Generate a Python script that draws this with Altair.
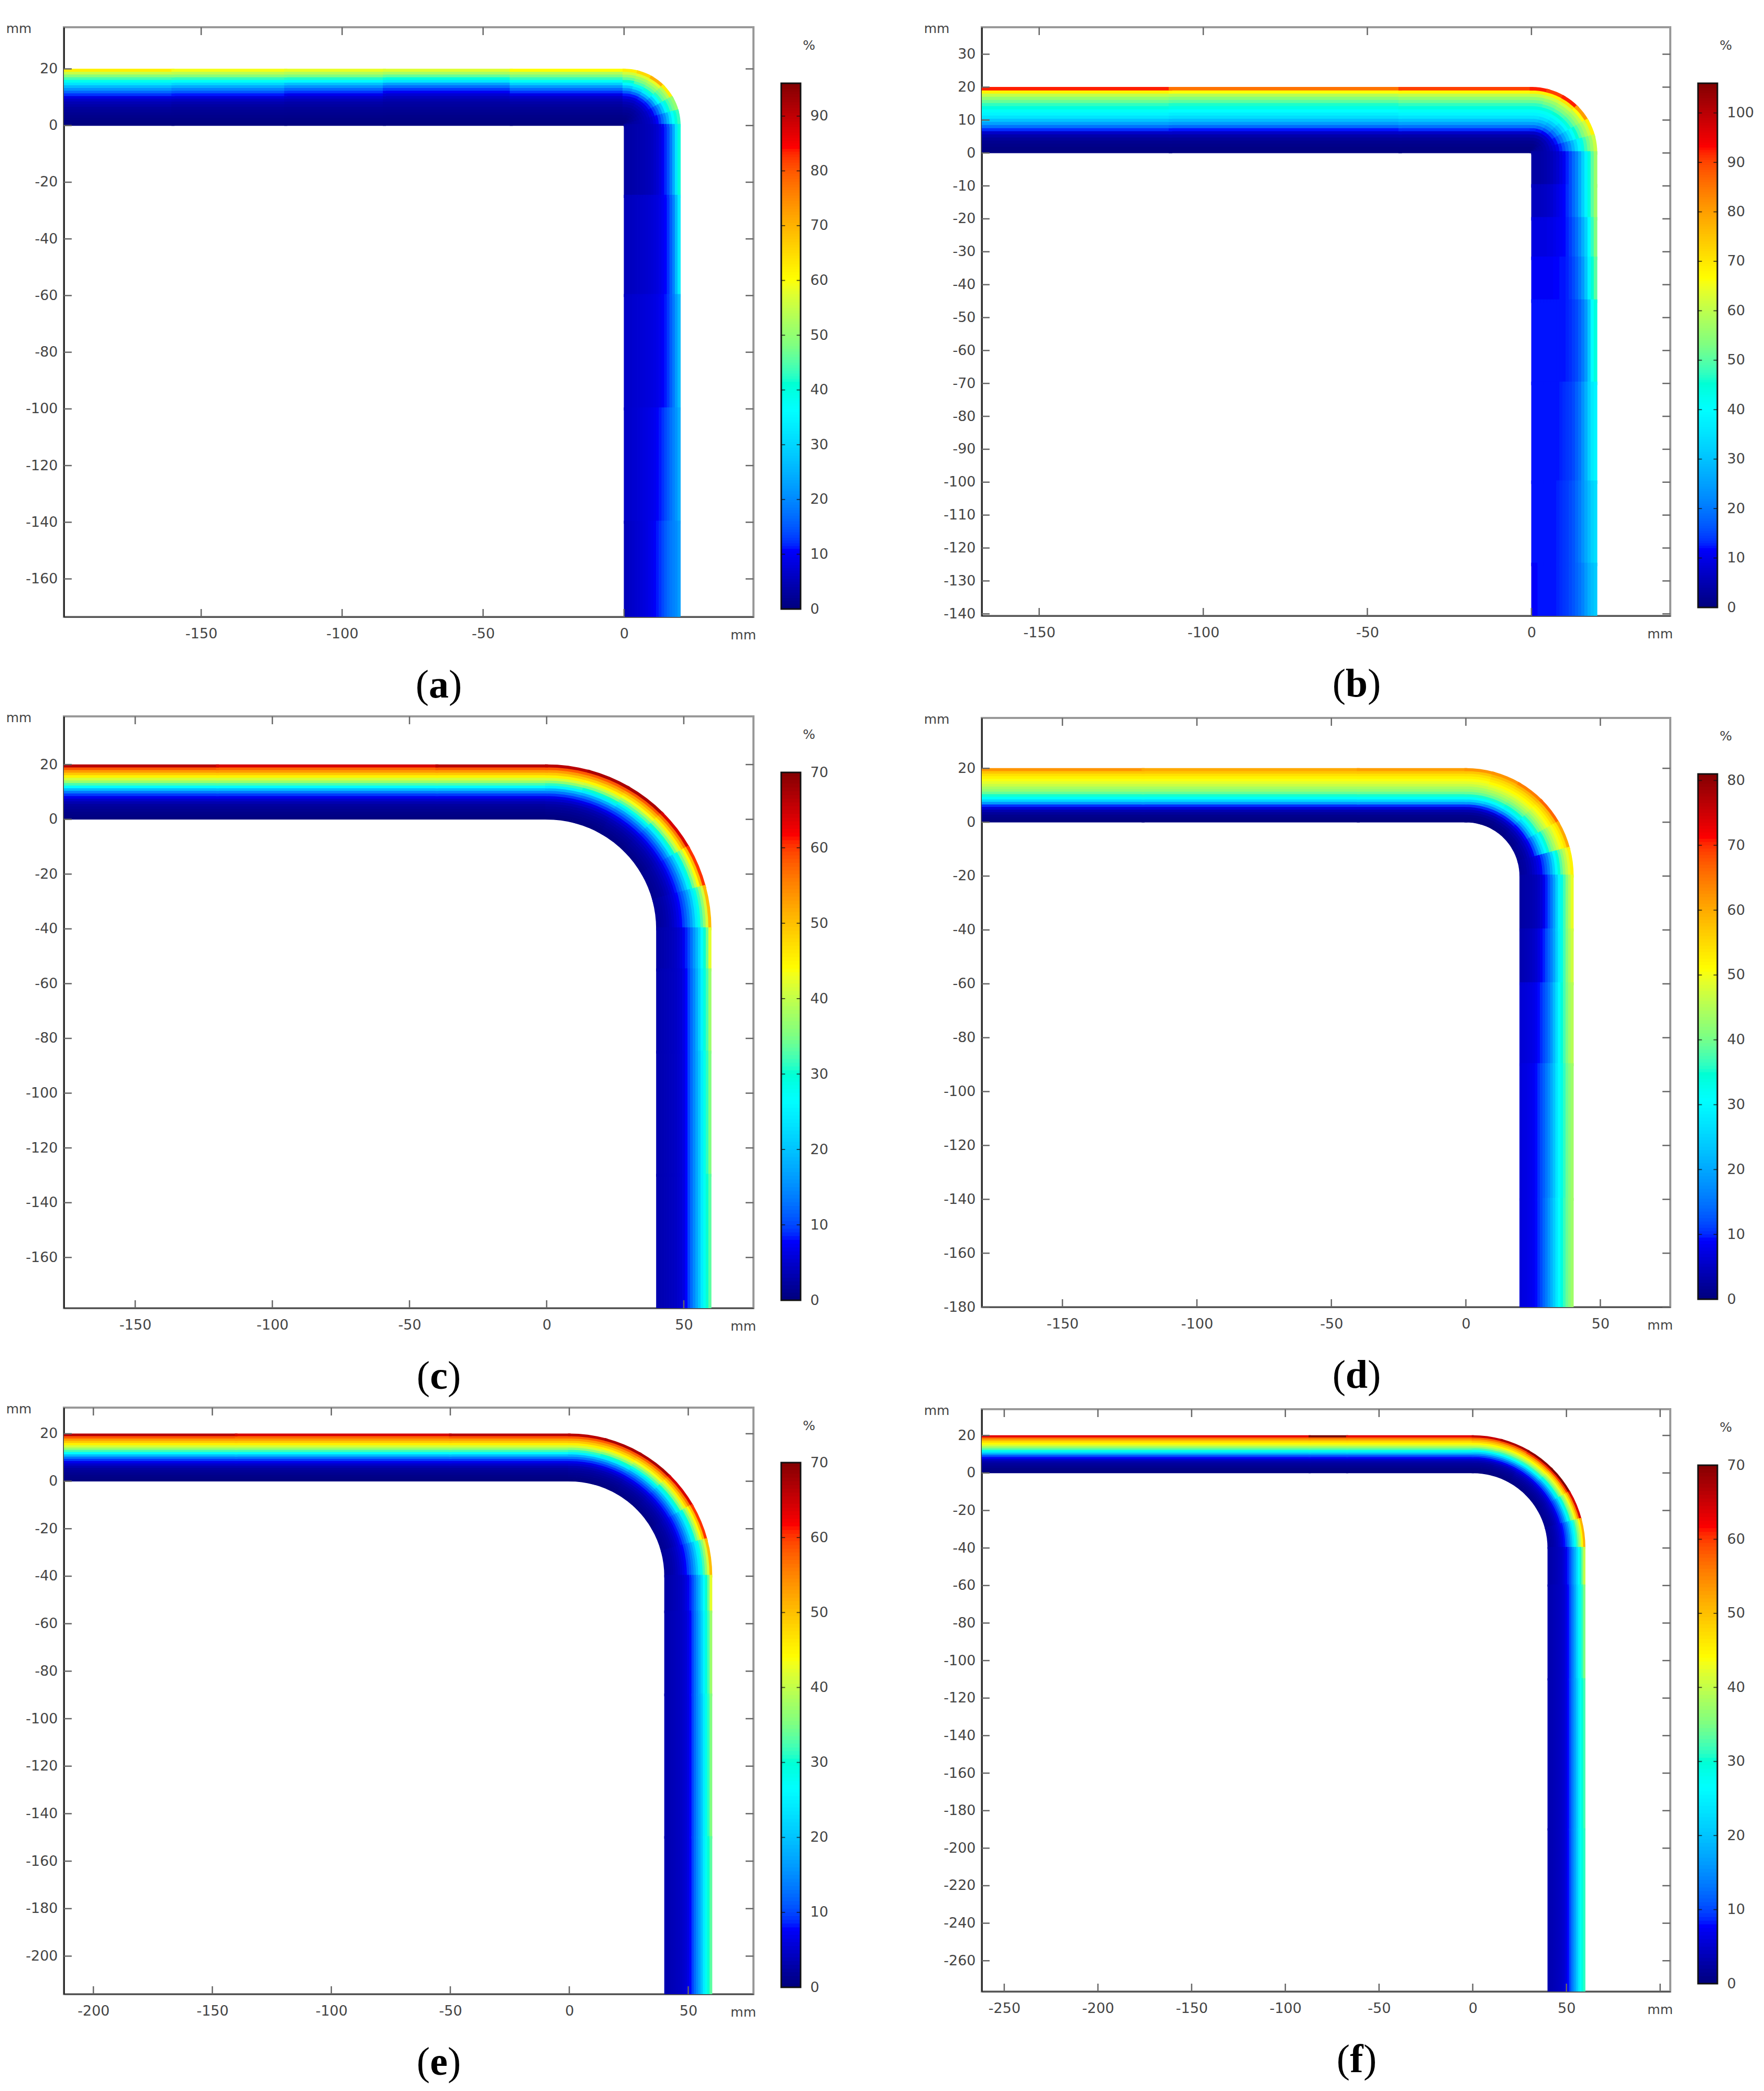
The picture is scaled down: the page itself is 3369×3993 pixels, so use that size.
import math
import altair as alt
import pandas as pd

JET_STOPS = [0, .11, .375, .5, .625, .875, 1]
JET_COLORS = ["#000080", "#0000ff", "#00ffff", "#80ff80", "#ffff00", "#ff0000", "#800000"]

# Each row: % across the wall, inner face to outer face, read at one station along the pipe:
# first the horizontal leg, then six sectors round the bend, then the vertical leg.
FIELD_A = [
    [0,.3,.6,1,1.5,2,2.5,3.5,4.5,6,8,12,16,21,26,32,38,44,49,55,62],
    [0,.3,.6,1,1.4,1.8,2.3,3,4,5.5,7.5,11,14.5,19,24,30,37,43,49,54,59],
    [0,.3,.5,.9,1.3,1.7,2.1,2.8,3.5,4.8,6.5,9,12,16,21,27,35,42,48,53,58],
    [0,.3,.5,.8,1.2,1.6,2,2.5,3,4,5.2,7,9.5,12.5,17,23,32,40,46,52,57],
    [0,.3,.5,.8,1.2,1.6,2,2.6,3.4,4.6,6,8.5,12,16.5,22,29,37,43,48,53,60],
    [0,.3,.6,1,1.5,2,2.5,3.5,4.5,6,8,11,15,21,28,35,41,46,51,56,62],
    [0,.3,.6,1,1.5,2,2.5,3.5,4.5,6,8,11,16,23,31,38,44,48,52,57,65],
    [.2,.4,.8,1.2,1.7,2.2,2.8,3.8,5,6.5,8.5,11.5,17,25,33,40,45,49,53,58,70],
    [.5,.8,1.2,1.6,2,2.5,3.2,4,5,6.5,8.5,11,15,21,29,36,42,46,49,53,62],
    [1,1.3,1.7,2,2.5,3,3.6,4.2,5,6,7.5,9.5,12.5,16,21,27,34,40,44,47,50],
    [1.5,2,2.4,2.8,3.2,3.6,4,4.5,5,5.5,6.5,8,10,12.5,16,20,25,31,36,40,43],
    [3,3.2,3.4,3.6,3.8,4,4.2,4.4,4.7,5,5.5,6.2,7,8,9.5,11.5,14,18,24,32,40],
    [5,5.2,5.4,5.6,5.8,6,6.2,6.4,6.6,6.9,7.2,7.6,8,8.6,9.5,10.5,12,15,19,26,33],
    [6,6.2,6.4,6.6,6.8,7,7.2,7.4,7.6,7.8,8,8.3,8.7,9.2,10,11,12.5,15,18,22,26],
    [6,6.2,6.5,6.8,7,7.3,7.6,7.9,8.2,8.5,8.9,9.4,10,11,12,13.5,15,17,19,21,24],
    [5,5.5,6,6.3,6.7,7,7.4,7.8,8.2,8.7,9.3,10,11,12,13.5,15,16.5,18,19,20,22],
]
FIELD_B = [
    [0,.4,.9,1.5,2.5,4,7,13,19,25,30,35,38,41,44,47,51,55,60,68,92],
    [0,.4,.9,1.5,2.5,4,7,12,18,24,29,34,37,40,43,46,50,54,59,66,85],
    [0,.4,.9,1.5,2.5,4,7,13,19,25,30,35,38,41,44,47,51,55,60,67,90],
    [0,.4,.9,1.5,2.5,4,7,12.5,19,25,30,35,38,41,44,47,51,55,60,68,92],
    [0,.5,1,1.7,2.7,4.3,7,12,18,24,29,34,38,41,44,48,52,56,61,68,90],
    [.5,.8,1.2,2,3,4.5,7,11,16,22,27,32,37,41,45,49,53,57,62,70,92],
    [1,1.3,1.8,2.5,3.5,5,7,10,14,19,24,29,34,39,44,48,52,56,60,66,80],
    [1.5,2,2.5,3.2,4,5.2,7,9,12,16,20,25,30,35,40,45,49,53,57,61,68],
    [2,2.5,3,3.5,4.2,5.2,6.5,8,10,12.5,15.5,19,23,28,33,38,43,48,52,56,61],
    [3.5,3.5,3.5,3.8,4.2,4.8,5.5,6.5,7.5,9,10.5,12.5,15,18,21,26,32,38,44,50,56],
    [6,6,6,6.2,6.5,7,7.5,8.5,9.5,10.5,11.5,13,15,18,21,26,32,38,44,50,56],
    [9,9,9,9,9,9.5,9.5,10,10.5,11,11.5,12.5,14,16,18.5,22,27,32,40,47,53],
    [11,11,11,11,11,11,11,11.5,11.5,12,12,12.5,13.5,15,17,20,24,30,38,45,50],
    [12,12,12,12,12,12,12,12,12,12,12,12.5,13,14,15,17,20,24,31,40,44],
    [12,12,12,12,12,12,12,12,12,12.5,13,13.5,14,15,17,19,23,27,32,36,38],
    [12,12,12,12,12,12,12,12,12.5,13,13.5,14,15,16,18,20,23,26,29,32,34],
    [11,11.5,12,12,12,12,12,12,12.5,13,13.5,14,15,16,17.5,19,21,24,27,29,31],
]
FIELD_C = [
    [0,.3,.6,1,1.5,2,3,4.5,6.5,9,13,19,26,32,37,41,45,49,53,58,66],
    [0,.3,.6,1,1.5,2,3,4.5,6.5,9,13,19,26,32,37,41,45,49,53,57,64],
    [0,.3,.6,1,1.5,2,3,4.5,6.5,9,13,19,26,32,37,41,45,49,53,58,66],
    [0,.4,.8,1.2,1.7,2.3,3.2,4.7,6.5,9,13,18,25,31,36,41,45,49,53,58,66],
    [.1,.4,.8,1.2,1.7,2.4,3.3,4.8,6.6,9,12.5,17.5,24,30,35,40,44.5,48.5,53,58,67],
    [.3,.6,1,1.5,2,2.7,3.6,5,6.8,9,12,16,22,28,33,38,43,47.5,52,58,67],
    [.5,.8,1.2,1.7,2.2,2.9,3.8,5,6.6,8.5,11,14.5,19,24.5,30,35,40,45,50,56,64],
    [1,1.3,1.6,2,2.5,3.2,4,5,6.4,8,10,12.5,16,20,24.5,29,34,39,44,50,60],
    [1.6,1.9,2.2,2.6,3.1,3.7,4.4,5.3,6.3,7.6,9.2,11,13.5,16.5,20,24,28,32,36,41,50],
    [2.4,2.6,2.8,3,3.3,3.6,3.9,4.3,4.9,5.7,6.8,8.2,10,12.5,15.5,18.5,22,26,30,34,42],
    [2.8,3,3.2,3.4,3.6,3.8,4,4.3,4.7,5.2,6.2,7.7,9.5,12,14.5,17.5,21,25,29,32,37],
    [3,3.1,3.2,3.4,3.6,3.8,4,4.3,4.7,5.2,6,7.7,9.5,12,14.5,17,20,24,28,31,35],
    [3,3.1,3.2,3.4,3.6,3.8,4,4.3,4.7,5.2,6,7.7,9.5,12,14.5,17,20,24,27.5,30,33],
]
FIELD_D = [
    [0,.5,1,2,3.5,6,10,18,25,31,35,39,42,44,46.5,48.5,50,52,54,57,62],
    [0,.5,1,2,3.5,6,10,18,25,31,35,39,42,44,46.5,48.5,50,52,54,57,60],
    [0,.5,1,2,3.5,6,10,18,25,31,35,39,42,44,46.5,48.5,50,52,54,57,61],
    [0,.5,1,2,3.5,6,10,18,25,31,35,39,42,44,46.5,48.5,50,52,54,57,62],
    [0,.5,1,2,3.5,6,10,17,24,30,35,39,42,44.5,47,49,51,53,55,58,62],
    [.3,.7,1.3,2.3,3.8,6,9.5,16,23,29,34,38,41,44,46.5,49,51,53,55.5,59,64],
    [.7,1.1,1.7,2.7,4,6,9,14,20,26,31,35,39,42,45,47.5,50,52,55,58,66],
    [1.2,1.6,2.2,3,4.2,5.8,8,11.5,16,21,26,30,34,38,41,44,47,49.5,51.5,54,60],
    [1.8,2.2,2.6,3.3,4,5,6,7.2,8.5,10.5,13,16,20,25,30,34,38,42,45.5,48.5,52],
    [2.5,2.7,2.9,3.1,3.4,3.8,4.2,4.9,6,7.5,9.5,12,15,19,24,29,33,37,41,45,49],
    [3.5,3.7,4,4.3,4.7,5.2,5.8,6.8,8.2,9.5,11.5,13.5,16,19.5,24,28.5,33,37,40.5,44,47],
    [6,6.2,6.4,6.7,7,7.4,8,9,10,11.5,13,15,18,22,26,30,34,37,40,43,45],
    [6.5,6.8,7,7.3,7.7,8.2,9,10,11.5,13,15,17,20,23,27,30,33,36,39,41,43],
    [6.5,6.8,7,7.3,7.7,8.2,9,10,11.5,13.5,15.5,18,21,24,27.5,30.5,33.5,36.5,39,41,43],
]
FIELD_F = [
    [0,.3,.6,1,1.5,2,3,4.5,7,10,15,22,28,33,37,41,44,47,51,56,63],
    [0,.3,.6,1,1.5,2,3,4.5,7,10,15,22,28,33,37,41,44,47,51,56,70],
    [0,.3,.6,1,1.5,2,3,4.5,7,10,15,22,28,33,37,41,44,47,51,56,63],
    [0,.3,.6,1,1.5,2,3,4.5,7,10,15,21,27,32,37,41,44,48,52,57,65],
    [.1,.4,.7,1.1,1.6,2.2,3.1,4.6,7,10,14.5,20.5,26.5,31.5,36,40,44,48,52,58,67],
    [.3,.6,1,1.5,2,2.7,3.6,5,7,10,14,20,26,31,36,40,44,48,53,60,69],
    [.5,.8,1.2,1.7,2.2,2.9,3.8,5.2,7,9.7,13,18,24,29,34,38.5,42.5,47,52,60,70],
    [1,1.3,1.6,2,2.5,3.2,4,5.2,6.8,9,11.5,15,20,25,30,34.5,38.5,43,48,55,64],
    [1.6,1.9,2.2,2.6,3.1,3.7,4.4,5.3,6.4,7.8,9.5,12,15,19,23,27,31,35,39,44,51],
    [2.4,2.6,2.8,3,3.3,3.6,3.9,4.3,4.9,5.7,6.8,8.2,10,12.5,15.5,18.5,22,26,30,34,40],
    [2.8,3,3.2,3.4,3.6,3.8,4,4.3,4.7,5.2,6.2,7.7,9.5,12,14.5,17.5,21,24.5,28,31,35],
    [3,3.1,3.2,3.4,3.6,3.8,4,4.3,4.7,5.2,6,7.7,9.5,12,14.5,17,20,23.5,27,29.5,32],
    [3,3.1,3.2,3.4,3.6,3.8,4,4.3,4.7,5.2,6,7.7,9.5,12,14.5,17,20,23.5,27,29,31],
]

XT_A = [-150, -100, -50, 0]
XT_C = [-150, -100, -50, 0, 50]
XT_E = [-200, -150, -100, -50, 0, 50]
XT_F = [-250, -200, -150, -100, -50, 0, 50]
YT_A = [20, 0, -20, -40, -60, -80, -100, -120, -140, -160]
YT_B = [30, 20, 10, 0, -10, -20, -30, -40, -50, -60, -70, -80, -90, -100, -110, -120, -130, -140]
YT_C = [20, 0, -20, -40, -60, -80, -100, -120, -140, -160]
YT_D = [20, 0, -20, -40, -60, -80, -100, -120, -140, -160, -180]
YT_E = [20, 0, -20, -40, -60, -80, -100, -120, -140, -160, -180, -200]
YT_F = [20, 0, -20, -40, -60, -80, -100, -120, -140, -160, -180, -200, -220, -240, -260]

PANELS = [
    dict(tag="a", half=19, field=FIELD_A, R=0, xd=[-198.7, 45.9], yd=[-173.4, 34.7], w=1317, h=1126,
         hb=[-160, -120, -85, -40], vb=[-25, -60, -100, -140], xt=XT_A, xl=XT_A, yt=YT_A, M=96, bt=[0,10,20,30,40,50,60,70,80,90], bar=[107, 1111]),
    dict(tag="b", half=21, field=FIELD_B, R=0, xd=[-167.5, 42.3], yd=[-140.6, 38.2], w=1315, h=1124,
         hb=[-110, -40], vb=[-10, -20, -32, -45, -70, -100, -125], xt=XT_A, xl=XT_A, yt=YT_B, M=106, bt=[0,10,20,30,40,50,60,70,80,90,100], bar=[107, 1108]),
    dict(tag="c", half=17, field=FIELD_C, R=40, xd=[-176, 75.4], yd=[-178.5, 37.6], w=1317, h=1130,
         hb=[-120, -40], vb=[-55, -85, -130], xt=XT_C, xl=XT_C, yt=YT_C, M=70, bt=[0,10,20,30,40,50,60,70], bar=[107, 1115]),
    dict(tag="d", half=21, field=FIELD_D, R=20, xd=[-180, 76], yd=[-180, 38.7], w=1315, h=1125,
         hb=[-120, -40], vb=[-40, -60, -90, -140], xt=XT_C, xl=XT_C, yt=YT_D, M=81, bt=[0,10,20,30,40,50,60,70,80], bar=[107, 1110]),
    dict(tag="e", half=17, field=FIELD_C, R=40, xd=[-212.4, 77.4], yd=[-216, 31], w=1317, h=1120,
         hb=[-140, -50], vb=[-55, -90, -150], xt=XT_E, xl=XT_E, yt=YT_E, M=70, bt=[0,10,20,30,40,50,60,70], bar=[105, 1107]),
    dict(tag="f", half=13, field=FIELD_F, R=40, xd=[-262, 105.4], yd=[-276.4, 34], w=1315, h=1112,
         hb=[-87, -67], vb=[-60, -110, -190], xt=XT_F + [100], xl=XT_F, yt=YT_F, M=70, bt=[0,10,20,30,40,50,60,70], bar=[107, 1097]),
]

WALL = 20.0
BEND_SECTORS = 6
FONT = "DejaVu Sans"
INK = "#444444"
TICK = "#666666"


def cell_rows(p):
    rows = []
    field, R = p["field"], p["R"]
    n = len(field[0])
    xs = [p["xd"][0]] + p["hb"] + [0]
    ys = [-R] + p["vb"] + [p["yd"][0]]
    sweep = 90 / BEND_SECTORS
    for k in range(n):
        d = (k + .5) * WALL / n
        r = R + d
        cy = -R
        paths = []
        for i in range(len(xs) - 1):
            paths.append([(xs[i], cy + r), (xs[i + 1], cy + r)])
        for i in range(BEND_SECTORS):
            pts = []
            for j in range(5):
                a = math.radians(sweep * (i + j / 4))
                pts.append((r * math.sin(a), cy + r * math.cos(a)))
            paths.append(pts)
        for i in range(len(ys) - 1):
            paths.append([(r, ys[i]), (r, ys[i + 1])])
        for s, pts in enumerate(paths):
            for o, (x, y) in enumerate(pts):
                rows.append(dict(cell=f"{k}-{s}", o=o, x=x, y=y, v=field[s][k], k=k))
    return pd.DataFrame(rows)


def panel(p):
    W, H = p["w"], p["h"]
    xs = alt.Scale(domain=p["xd"], nice=False, zero=False)
    ys = alt.Scale(domain=p["yd"], nice=False, zero=False)
    M = p["M"]
    cs = alt.Scale(domain=[s * M for s in JET_STOPS], range=JET_COLORS)
    one = pd.DataFrame({"t": [0]})
    ppu = W / (p["xd"][1] - p["xd"][0])
    n = len(p["field"][0])

    strips = alt.Chart(cell_rows(p)).mark_line(
        clip=True, strokeCap="square", strokeWidth=WALL / n * ppu + .8
    ).encode(
        x=alt.X("x:Q", scale=xs, axis=None),
        y=alt.Y("y:Q", scale=ys, axis=None),
        detail="cell:N",
        order="o:Q",
        color=alt.Color("v:Q", scale=cs, legend=None),
    )

    num = "'' + datum.value"
    x_axis = alt.Axis(orient="bottom", values=p["xl"], ticks=False, tickSize=0, grid=False, title=None,
                      labelExpr=num, labelFont=FONT, labelFontSize=27, labelColor=INK, labelPadding=19,
                      labelOverlap=False, labelFlush=False, labelBound=False,
                      domainColor="#555555", domainWidth=3)
    y_axis = alt.Axis(orient="left", values=p["yt"], ticks=False, tickSize=0, grid=False, title=None,
                      labelExpr=num, labelFont=FONT, labelFontSize=27, labelColor=INK, labelPadding=12,
                      labelOverlap=False, labelBound=False,
                      domainColor="#2b2b2b", domainWidth=3)
    xdf = pd.DataFrame({"v": p["xt"]})
    ydf = pd.DataFrame({"v": p["yt"]})
    tick = dict(color=TICK, strokeWidth=2.5)
    tb = alt.Chart(xdf).mark_rule(**tick).encode(x=alt.X("v:Q", scale=xs, axis=x_axis), y=alt.value(H), y2=alt.value(H - 15))
    tt = alt.Chart(xdf).mark_rule(**tick).encode(x=alt.X("v:Q", scale=xs, axis=None), y=alt.value(0), y2=alt.value(15))
    tl = alt.Chart(ydf).mark_rule(**tick).encode(y=alt.Y("v:Q", scale=ys, axis=y_axis), x=alt.value(0), x2=alt.value(15))
    tr = alt.Chart(ydf).mark_rule(**tick).encode(y=alt.Y("v:Q", scale=ys, axis=None), x=alt.value(W), x2=alt.value(W - 15))

    # colour bar: its own scales, pinned to the space right of the plot
    bx = alt.Scale(domain=[0, 1], range=[W + 53, W + 90], nice=False, zero=False)
    by = alt.Scale(domain=[0, M], range=[p["bar"][1], p["bar"][0]], nice=False, zero=False)
    step = .5
    vals = [i * step for i in range(int(M / step))]
    bar_df = pd.DataFrame({"v": vals, "v2": [min(v + step * 1.4, M) for v in vals], "a": 0, "b": 1})
    bar = alt.Chart(bar_df).mark_rect().encode(
        x=alt.X("a:Q", scale=bx, axis=None), x2="b:Q",
        y=alt.Y("v:Q", scale=by, axis=None), y2="v2:Q",
        color=alt.Color("v:Q", scale=cs, legend=None),
    )
    frame = alt.Chart(pd.DataFrame({"a": [0], "b": [1], "lo": [0], "hi": [M]})).mark_rect(
        fill=None, stroke="#111111", strokeWidth=3
    ).encode(
        x=alt.X("a:Q", scale=bx, axis=None), x2="b:Q",
        y=alt.Y("lo:Q", scale=by, axis=None), y2="hi:Q",
    )
    bar_axis = alt.Axis(orient="right", offset=90, values=p["bt"], ticks=False, tickSize=0, domain=False, grid=False,
                        title=None, labelExpr=num, labelFont=FONT, labelFontSize=27, labelColor=INK, labelPadding=18,
                        labelOverlap=False, labelBound=False)
    bt_df = pd.DataFrame({"v": p["bt"], "a": 0, "b": .2, "c": .8, "d": 1})
    dash_l = alt.Chart(bt_df).mark_rule(color="#111111", strokeWidth=2, opacity=.7).encode(
        x=alt.X("a:Q", scale=bx, axis=None), x2="b:Q", y=alt.Y("v:Q", scale=by, axis=bar_axis))
    dash_r = alt.Chart(bt_df).mark_rule(color="#111111", strokeWidth=2, opacity=.7).encode(
        x=alt.X("c:Q", scale=bx, axis=None), x2="d:Q", y=alt.Y("v:Q", scale=by, axis=None))

    def label(text, x, y, **kw):
        style = dict(font=FONT, fontSize=25, color=INK, baseline="middle")
        style.update(kw)
        return alt.Chart(one).mark_text(text=text, **style).encode(x=alt.value(x), y=alt.value(y))

    cx, cy, hw = 716, H + 131, p["half"]
    serif = dict(font="Liberation Serif", fontSize=76, color="#000000")
    texts = [
        label("mm", -86, 3, align="center"),
        label("mm", W + 5, H + 35, align="right"),
        label("%", W + 106, 35, align="center"),
        label("(", cx - hw, cy, align="right", **serif),
        label(p["tag"], cx, cy, align="center", fontWeight="bold", **serif),
        label(")", cx + hw, cy, align="left", **serif),
    ]
    return alt.layer(strips, tb, tt, tl, tr, bar, frame, dash_l, dash_r, *texts).resolve_scale(
        x="independent", y="independent"
    ).properties(width=W, height=H)


left = alt.vconcat(panel(PANELS[0]), panel(PANELS[2]), panel(PANELS[4]), spacing=190, bounds="flush").resolve_scale(color="independent")
right = alt.vconcat(panel(PANELS[1]), panel(PANELS[3]), panel(PANELS[5]), spacing=195, bounds="flush").resolve_scale(color="independent")
chart = alt.hconcat(left, right, spacing=1753, bounds="flush").resolve_scale(color="independent").properties(
    padding={"left": 1, "top": 33, "right": 5, "bottom": 5}, background="white"
).configure_view(stroke="#999999", strokeWidth=4)

chart.save("out.html", embed_options={"renderer": "svg", "actions": False})
